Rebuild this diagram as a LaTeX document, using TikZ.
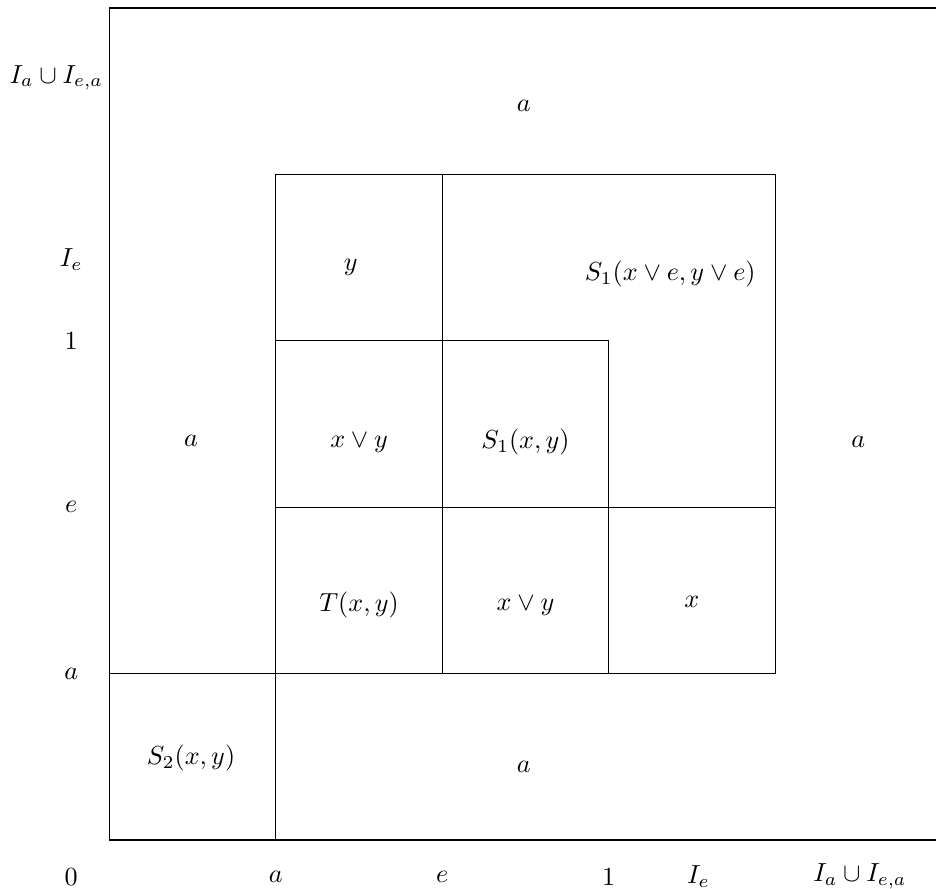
\documentclass[tikz,border=0pt]{standalone}
\usepackage{amsmath,amssymb}
\usepackage{xcolor}

\begin{document}
\begin{tikzpicture}[x=2.24cm,y=2.24cm]
\useasboundingbox (-0.658,-0.294) rectangle (4.967,5.048);
% outer square and inner blocks
\draw (0,0) rectangle (5,5);
\draw (0,1)--(4,1)--(4,4)--(1,4)--(1,0);
\draw (2,1)--(2,4);
\draw (1,2)--(4,2);
\draw (1,3)--(3,3)--(3,1);
% axis labels
\node (xz) at (-0.23,-0.22) {$0$};
\node (xa) at (1,-0.22) {$a$};
\node (xe) at (2,-0.22) {$e$};
\node (xo) at (3,-0.22) {$1$};
\node (xie) at (3.54,-0.22) {$I_e$};
\node (xiu) at (4.51,-0.22) {$I_a\cup I_{e,a}$};
\node (ya) at (-0.23,1) {$a$};
\node (ye) at (-0.23,2) {$e$};
\node (yo) at (-0.23,3) {$1$};
\node (yie) at (-0.23,3.49) {$I_e$};
\node (yiu) at (-0.32,4.58) {$I_a\cup I_{e,a}$};
% cell values
\node (top) at (2.49,4.41) {$a$};
\node (cy) at (1.45,3.44) {$y$};
\node (cs1e) at (3.37,3.40) {$S_1(x\vee e,y\vee e)$};
\node (left) at (0.49,2.40) {$a$};
\node (cxy) at (1.5,2.39) {$x\vee y$};
\node (cs1) at (2.5,2.39) {$S_1(x,y)$};
\node (right) at (4.5,2.39) {$a$};
\node (ct) at (1.5,1.41) {$T(x,y)$};
\node (cxy2) at (2.5,1.41) {$x\vee y$};
\node (cx) at (3.5,1.43) {$x$};
\node (cs2) at (0.49,0.49) {$S_2(x,y)$};
\node (bot) at (2.49,0.44) {$a$};
\end{tikzpicture}
\end{document}
